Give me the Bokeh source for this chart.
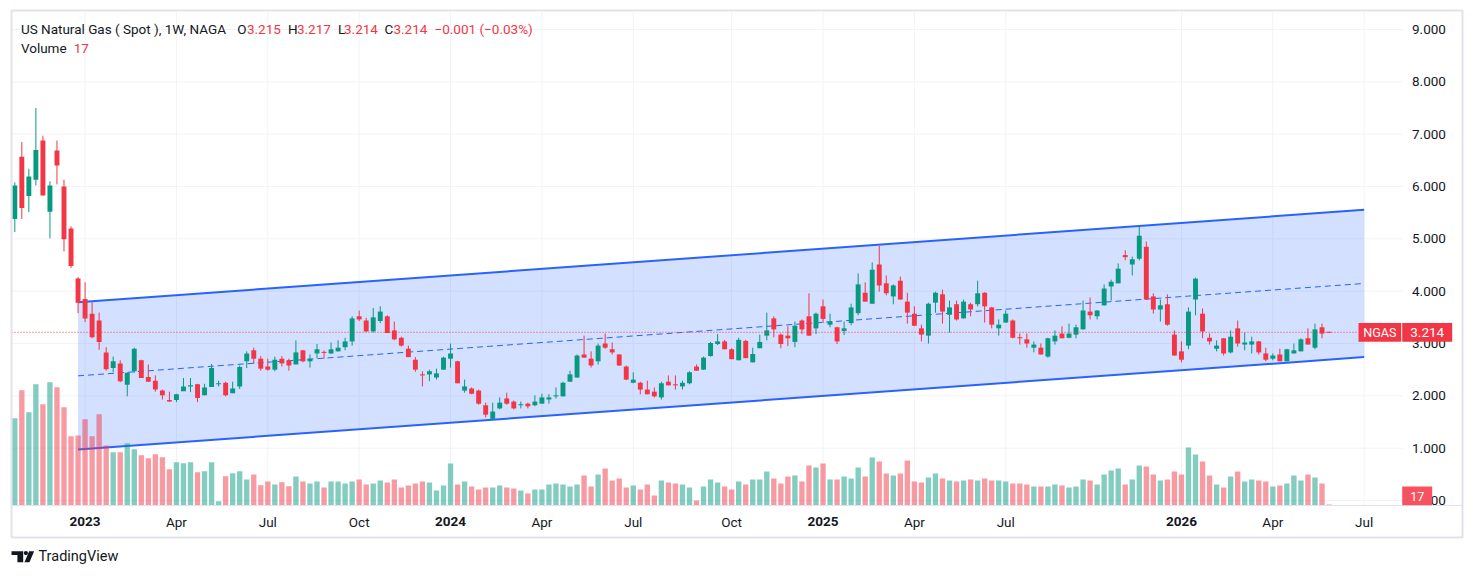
from bokeh.plotting import figure
from bokeh.models import Range1d, ColumnDataSource
from bokeh.core.properties import value
from bokeh.embed import file_html
from bokeh.resources import INLINE

# ---------------- data (weekly bars, index 0 = first bar) ----------------
opens = [5.38, 6.57, 5.82, 6.13, 6.88, 5.52, 6.69, 6.00, 5.20, 4.24,
         3.85, 3.57, 3.44, 2.83, 2.53, 2.62, 2.21, 2.47, 2.68, 2.36,
         2.29, 2.10, 1.92, 1.92, 2.09, 2.18, 2.22, 2.01, 2.17, 2.22,
         2.25, 2.05, 2.18, 2.66, 2.87, 2.71, 2.56, 2.50, 2.71, 2.68,
         2.60, 2.87, 2.66, 2.81, 2.84, 2.81, 2.85, 2.93, 3.04, 3.52,
         3.44, 3.23, 3.43, 3.52, 3.25, 3.11, 2.90, 2.69, 2.41, 2.41,
         2.35, 2.50, 2.71, 2.66, 2.10, 2.14, 2.10, 1.82, 1.56, 1.76,
         1.95, 1.89, 1.82, 1.85, 1.82, 1.85, 1.93, 1.99, 1.99, 2.27,
         2.35, 2.79, 2.71, 2.66, 3.00, 2.89, 2.79, 2.56, 2.25, 2.25,
         2.12, 2.08, 1.97, 2.27, 2.22, 2.18, 2.24, 2.56, 2.50, 2.76,
         2.99, 3.04, 2.89, 2.68, 3.05, 2.64, 2.91, 3.15, 3.48, 3.17,
         3.15, 3.03, 3.44, 3.52, 3.29, 3.71, 3.36, 3.31, 3.24, 3.39,
         3.58, 3.97, 3.76, 4.51, 4.15, 3.90, 4.20, 3.80, 3.57, 3.29,
         3.15, 3.78, 3.94, 3.55, 3.75, 3.48, 3.75, 3.75, 3.97, 3.69,
         3.29, 3.40, 3.44, 3.12, 3.08, 2.92, 2.92, 2.75, 3.04, 3.19,
         3.11, 3.17, 3.27, 3.61, 3.52, 3.73, 4.09, 4.15, 4.69, 4.51,
         4.62, 4.85, 3.90, 3.65, 3.75, 3.17, 2.85, 2.96, 3.84, 3.57,
         3.11, 2.90, 3.10, 2.83, 3.29, 2.98, 2.98, 3.04, 2.81, 2.71,
         2.79, 2.66, 2.81, 2.85, 3.10, 2.92, 3.31, 3.215]
highs = [6.08, 6.85, 6.34, 7.50, 6.97, 6.10, 6.88, 6.13, 5.24, 4.27,
         4.17, 3.79, 3.59, 2.93, 2.75, 2.68, 2.45, 2.92, 2.69, 2.60,
         2.39, 2.12, 2.08, 2.04, 2.34, 2.34, 2.23, 2.23, 2.61, 2.29,
         2.27, 2.27, 2.58, 2.85, 2.92, 2.76, 2.71, 2.75, 2.76, 2.71,
         3.06, 2.88, 2.79, 2.99, 2.87, 3.02, 3.06, 3.11, 3.52, 3.63,
         3.49, 3.68, 3.71, 3.54, 3.42, 3.13, 2.96, 2.74, 2.47, 2.50,
         2.52, 2.75, 3.00, 2.67, 2.31, 2.16, 2.12, 1.87, 1.87, 1.97,
         2.06, 1.91, 1.89, 1.87, 2.01, 2.04, 2.03, 2.16, 2.27, 2.48,
         2.79, 3.15, 2.85, 3.00, 3.19, 3.02, 2.80, 2.58, 2.45, 2.27,
         2.29, 2.16, 2.27, 2.39, 2.39, 2.29, 2.47, 2.60, 2.75, 3.03,
         3.18, 3.07, 2.91, 3.11, 3.07, 2.92, 3.17, 3.59, 3.52, 3.19,
         3.33, 3.42, 3.46, 3.96, 3.59, 3.84, 3.57, 3.32, 3.42, 3.76,
         4.34, 4.17, 4.55, 4.87, 4.30, 4.13, 4.28, 3.97, 3.71, 3.36,
         3.78, 3.99, 4.03, 3.82, 3.82, 3.84, 3.78, 4.20, 3.98, 3.70,
         3.46, 3.63, 3.46, 3.19, 3.19, 3.04, 3.00, 3.11, 3.25, 3.33,
         3.38, 3.36, 3.82, 3.88, 3.64, 4.13, 4.22, 4.53, 4.78, 4.66,
         5.24, 4.95, 3.96, 3.84, 3.94, 3.25, 3.04, 3.69, 4.26, 3.67,
         3.19, 3.06, 3.10, 3.25, 3.44, 3.21, 3.13, 3.05, 2.92, 2.81,
         2.90, 2.90, 3.00, 3.10, 3.29, 3.38, 3.38, 3.217]
lows = [5.13, 5.38, 5.51, 6.02, 5.83, 5.01, 6.04, 4.76, 4.44, 3.58,
        3.41, 3.10, 2.88, 2.48, 2.45, 2.26, 1.99, 2.44, 2.34, 2.27,
        2.08, 1.93, 1.88, 1.88, 2.09, 2.07, 1.88, 2.01, 2.17, 2.18,
        1.99, 2.05, 2.13, 2.53, 2.61, 2.48, 2.48, 2.47, 2.56, 2.48,
        2.60, 2.64, 2.54, 2.72, 2.71, 2.80, 2.85, 2.87, 2.96, 3.43,
        3.23, 3.21, 3.39, 3.20, 3.06, 2.94, 2.74, 2.46, 2.18, 2.28,
        2.31, 2.50, 2.54, 2.24, 2.06, 2.03, 1.83, 1.59, 1.56, 1.74,
        1.83, 1.74, 1.76, 1.76, 1.80, 1.85, 1.85, 1.95, 1.99, 2.27,
        2.35, 2.73, 2.54, 2.60, 2.90, 2.79, 2.57, 2.30, 2.24, 2.03,
        2.03, 1.97, 1.93, 2.20, 2.12, 2.12, 2.22, 2.48, 2.50, 2.75,
        2.97, 2.89, 2.70, 2.68, 2.72, 2.64, 2.91, 3.06, 3.12, 2.91,
        2.95, 2.93, 3.18, 3.15, 3.18, 3.39, 3.31, 2.99, 3.16, 3.35,
        3.54, 3.80, 3.76, 3.99, 3.92, 3.75, 3.84, 3.38, 3.33, 3.04,
        3.00, 3.59, 3.38, 3.21, 3.44, 3.48, 3.52, 3.71, 3.40, 3.29,
        3.15, 3.40, 3.10, 2.98, 2.92, 2.83, 2.79, 2.73, 2.98, 3.10,
        3.10, 3.10, 3.27, 3.46, 3.46, 3.72, 3.82, 4.15, 4.59, 4.30,
        4.59, 3.84, 3.57, 3.42, 3.34, 2.77, 2.64, 2.89, 3.54, 3.10,
        2.98, 2.85, 2.77, 2.81, 2.94, 2.87, 2.81, 2.79, 2.66, 2.68,
        2.66, 2.66, 2.81, 2.85, 2.98, 2.89, 3.10, 3.214]
closes = [6.02, 5.59, 6.19, 6.70, 5.83, 6.02, 6.40, 4.99, 4.48, 3.78,
          3.48, 3.12, 3.03, 2.51, 2.66, 2.28, 2.44, 2.90, 2.34, 2.27,
          2.12, 2.01, 1.89, 2.03, 2.18, 2.20, 1.96, 2.16, 2.53, 2.24,
          2.01, 2.14, 2.55, 2.81, 2.71, 2.52, 2.50, 2.69, 2.62, 2.58,
          2.83, 2.66, 2.71, 2.89, 2.82, 2.89, 2.92, 3.04, 3.48, 3.46,
          3.23, 3.50, 3.61, 3.20, 3.08, 2.96, 2.74, 2.50, 2.39, 2.47,
          2.43, 2.73, 2.81, 2.24, 2.18, 2.04, 1.85, 1.64, 1.70, 1.87,
          1.85, 1.76, 1.84, 1.80, 1.89, 1.97, 1.97, 2.01, 2.25, 2.41,
          2.77, 2.73, 2.58, 2.96, 2.92, 2.83, 2.58, 2.31, 2.31, 2.12,
          2.03, 1.99, 2.24, 2.20, 2.20, 2.25, 2.45, 2.48, 2.73, 3.01,
          3.04, 2.89, 2.70, 3.07, 2.72, 2.80, 3.03, 3.25, 3.27, 2.99,
          3.10, 3.34, 3.27, 3.15, 3.57, 3.47, 3.42, 3.04, 3.29, 3.69,
          4.13, 3.80, 4.41, 4.11, 3.96, 4.11, 3.84, 3.59, 3.34, 3.17,
          3.76, 3.97, 3.61, 3.69, 3.46, 3.80, 3.65, 3.96, 3.71, 3.36,
          3.36, 3.57, 3.11, 3.10, 3.00, 2.98, 2.79, 3.10, 3.15, 3.10,
          3.19, 3.31, 3.63, 3.54, 3.63, 4.05, 4.18, 4.43, 4.65, 4.61,
          5.06, 3.84, 3.65, 3.73, 3.36, 2.77, 2.69, 3.61, 4.24, 3.23,
          3.04, 2.96, 2.81, 3.13, 3.00, 3.02, 3.04, 2.83, 2.69, 2.77,
          2.66, 2.89, 2.87, 3.08, 2.98, 3.27, 3.19, 3.214]
volumes = [1484, 1960, 1586, 2062, 1722, 2096, 2011, 1671, 1178, 1190,
           1467, 1178, 1552, 1020, 906, 906, 1059, 957, 855, 804,
           872, 821, 617, 736, 719, 736, 566, 583, 736, 73,
           498, 549, 583, 442, 527, 345, 408, 357, 396, 328,
           493, 408, 374, 408, 306, 408, 408, 374, 408, 442,
           357, 374, 425, 391, 442, 306, 340, 374, 408, 391,
           255, 340, 714, 357, 408, 323, 272, 306, 306, 340,
           306, 289, 255, 204, 272, 272, 357, 374, 357, 323,
           357, 510, 323, 527, 629, 425, 459, 306, 340, 272,
           357, 170, 425, 391, 374, 357, 306, 85, 323, 442,
           391, 323, 272, 408, 357, 442, 442, 578, 459, 374,
           493, 510, 408, 680, 646, 714, 442, 442, 493, 459,
           646, 493, 816, 748, 544, 510, 544, 765, 408, 391,
           476, 544, 459, 425, 408, 425, 442, 425, 459, 425,
           425, 408, 374, 374, 357, 323, 323, 323, 357, 340,
           306, 323, 442, 425, 357, 527, 595, 629, 357, 442,
           680, 663, 527, 425, 442, 578, 527, 986, 867, 748,
           510, 357, 306, 493, 578, 408, 442, 425, 408, 323,
           340, 374, 510, 425, 527, 476, 374, 17]

# time scale ticks (bar index of the first bar of each labelled period)
time_tick_idx = [10, 23, 36, 49, 62, 75, 88, 102, 115, 128, 141, 166, 179, 192]
time_tick_labels = ["2023", "Apr", "Jul", "Oct", "2024", "Apr", "Jul", "Oct",
                    "2025", "Apr", "Jul", "2026", "Apr", "Jul"]
price_ticks = [0, 1, 2, 3, 4, 5, 6, 7, 8, 9]

# parallel channel drawing (anchor bars and prices)
channel_x = [9, 192]
channel_upper = [3.789, 5.555]
channel_lower = [0.975, 2.740]

last_price = 3.214
last_volume = 17
last_change = "\u22120.001 (\u22120.03%)"

# ---------------- layout / style constants (page pixels) ----------------
W, H = 1473, 576
BAR0_PX, BAR_PX = 14.3, 7.028        # x of bar 0, pixels per bar
ZERO_PX, PRICE_PX = 500.0, 52.33     # y of price 0, pixels per price unit
VOL_PX = 17.0                        # volume units per pixel
PANE_L, PANE_R, PANE_T, PANE_B = 11, 1402, 10, 505
UP, DOWN = "#089981", "#F23645"
BLUE = "#2962FF"
TXT = "#131722"
GRID = "#F0F3FA"
EDGE = "#E0E3EB"
FONT = "Roboto"


def X(cx):
    return (cx - BAR0_PX) / BAR_PX


def Y(cy):
    return (ZERO_PX - cy) / PRICE_PX


n = len(opens)
idx = list(range(n))
colors = [UP if c >= o else DOWN for o, c in zip(opens, closes)]
tops, bots = [], []
for o, c in zip(opens, closes):
    t, b = max(o, c), min(o, c)
    if t - b < 0.02:
        m = (t + b) / 2
        t, b = m + 0.01, m - 0.01
    tops.append(t)
    bots.append(b)

src = ColumnDataSource(dict(x=idx, h=highs, l=lows, top=tops, bot=bots,
                            vol=volumes, color=colors))

p = figure(width=W, height=H, output_backend="svg", toolbar_location=None,
           x_range=Range1d(X(0), X(W)), y_range=Range1d(Y(H), Y(0)),
           x_axis_location=None, y_axis_location=None)
p.min_border_left = p.min_border_right = p.min_border_top = p.min_border_bottom = 0
p.outline_line_color = None
p.grid.visible = False
p.background_fill_color = "white"
p.border_fill_color = "white"
vol_top = (ZERO_PX + (PANE_B - ZERO_PX)) * VOL_PX       # volume 0 sits on the pane bottom
p.extra_y_ranges = {"vol": Range1d(-(H - PANE_B) * VOL_PX, PANE_B * VOL_PX)}

# grid
nt = len(time_tick_idx)
p.segment(x0=time_tick_idx, y0=[Y(PANE_B)] * nt, x1=time_tick_idx, y1=[Y(PANE_T)] * nt,
          line_color=GRID, line_width=1)
npt = len(price_ticks)
p.segment(x0=[X(PANE_L)] * npt, y0=price_ticks, x1=[X(PANE_R)] * npt, y1=price_ticks,
          line_color=GRID, line_width=1)

# channel
mid = [(u + l) / 2 for u, l in zip(channel_upper, channel_lower)]
p.varea(x=channel_x, y1=channel_lower, y2=channel_upper, fill_color=BLUE, fill_alpha=0.2)
p.line(channel_x, channel_upper, line_color=BLUE, line_width=2)
p.line(channel_x, channel_lower, line_color=BLUE, line_width=2)
p.line(channel_x, mid, line_color=BLUE, line_width=1, line_dash="6 4")

# volume
p.vbar(x="x", top="vol", bottom=0, width=0.76, source=src, y_range_name="vol",
       fill_color="color", fill_alpha=0.5, line_color=None)

# candles
p.segment(x0="x", y0="l", x1="x", y1="h", source=src, line_color="color", line_width=1)
p.vbar(x="x", top="top", bottom="bot", width=0.7, source=src,
       fill_color="color", line_color=None)

# last price line
p.segment(x0=[X(PANE_L)], y0=[last_price], x1=[X(1358)], y1=[last_price],
          line_color=DOWN, line_dash="1 2", line_width=1)

# frame of the chart, time-scale separator
p.quad(left=[X(11)], right=[X(1462)], top=[Y(10)], bottom=[Y(537)],
       fill_color=None, line_color=EDGE, line_width=2)
p.segment(x0=[X(PANE_L)], y0=[Y(PANE_B)], x1=[X(1462)], y1=[Y(PANE_B)],
          line_color=EDGE, line_width=1)

# time scale labels
styles = ["bold" if lab.isdigit() else "normal" for lab in time_tick_labels]
p.text(x=time_tick_idx, y=[Y(521)] * nt, text=time_tick_labels,
       text_font=value(FONT), text_font_size=value("13.5px"), text_font_style=styles,
       text_color=TXT, text_align="center", text_baseline="middle")

# price scale labels
p.text(x=[X(1411.5)] * npt, y=price_ticks, text=[f"{v:.3f}" for v in price_ticks],
       text_font=value(FONT), text_font_size=value("13.5px"), text_color=TXT,
       text_align="left", text_baseline="middle")

# price-scale badges
half = 9.35 / PRICE_PX
p.quad(left=[X(1358)], right=[X(1400.7)], top=[last_price + half], bottom=[last_price - half],
       fill_color=DOWN, line_color=None)
p.quad(left=[X(1401.7)], right=[X(1451.7)], top=[last_price + half], bottom=[last_price - half],
       fill_color=DOWN, line_color=None)
p.text(x=[X(1379.3)], y=[last_price], text=["NGAS"], text_font=value(FONT),
       text_font_size=value("12.5px"), text_color="white", text_align="center",
       text_baseline="middle")
p.text(x=[X(1426.7)], y=[last_price], text=[f"{last_price:.3f}"], text_font=value(FONT),
       text_font_size=value("13.5px"), text_color="white", text_align="center",
       text_baseline="middle")
p.quad(left=[X(1401.7)], right=[X(1431.7)], top=[Y(486)], bottom=[Y(504.7)],
       fill_color="#F7525F", line_color=None)
p.text(x=[X(1416.7)], y=[Y(495.5)], text=[str(last_volume)], text_font=value(FONT),
       text_font_size=value("12.5px"), text_color="white", text_align="center",
       text_baseline="middle")

# legend header
def hdr(text, cx, cy, color=TXT):
    p.text(x=[X(cx)], y=[Y(cy)], text=[text], text_font=value(FONT),
           text_font_size=value("13.5px"), text_color=color,
           text_align="left", text_baseline="middle")

L1, L2 = 28.8, 47.5
hdr("US Natural Gas ( Spot ), 1W, NAGA", 20.4, L1)
hdr("O", 236.8, L1); hdr(f"{opens[-1]:.3f}", 246.4, L1, DOWN)
hdr("H", 287.5, L1); hdr(f"{highs[-1]:.3f}", 296.4, L1, DOWN)
hdr("L", 337.5, L1); hdr(f"{lows[-1]:.3f}", 343.5, L1, DOWN)
hdr("C", 383.9, L1); hdr(f"{closes[-1]:.3f}", 392.9, L1, DOWN)
hdr(last_change, 434.0, L1, DOWN)
hdr("Volume", 20.4, L2); hdr(str(last_volume), 73.2, L2, DOWN)

# TradingView logo + wordmark
p.patch(x=[X(v) for v in [11, 22.7, 22.7, 16.9, 16.9, 11]],
        y=[Y(v) for v in [550.7, 550.7, 561.7, 561.7, 554.4, 554.4]],
        fill_color=TXT, line_color=None)
p.patch(x=[X(v) for v in [28.6, 33.6, 29.0, 24.0]],
        y=[Y(v) for v in [550.7, 550.7, 561.7, 561.7]],
        fill_color=TXT, line_color=None)
p.ellipse(x=[X(25.4)], y=[Y(552.6)], width=4.2 / BAR_PX, height=4.2 / PRICE_PX,
          fill_color=TXT, line_color=None)
p.text(x=[X(38)], y=[Y(556)], text=["TradingView"], text_font=value(FONT),
       text_font_size=value("14.5px"), text_color=TXT, text_align="left",
       text_baseline="middle")

open("out.html", "w").write(file_html(p, INLINE))
